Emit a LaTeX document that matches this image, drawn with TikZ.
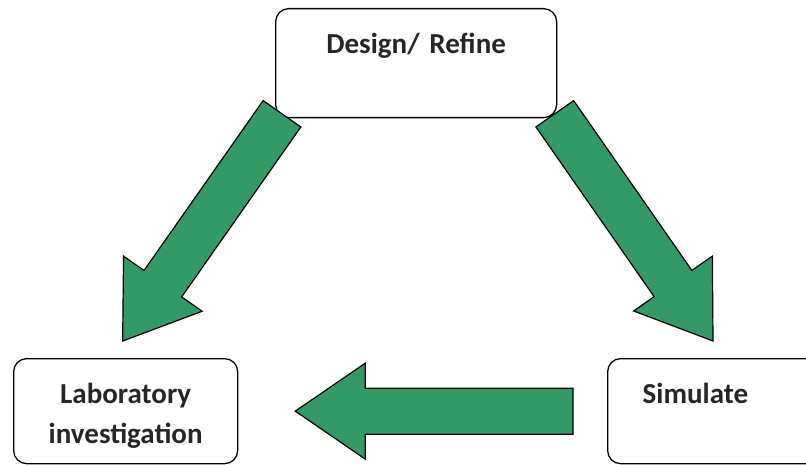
\documentclass[tikz,border=0pt]{standalone}
\usepackage{fontspec}
\setmainfont{Carlito}
\usetikzlibrary{calc}
\definecolor{flowgreen}{RGB}{51,153,102}

% fat block arrow from #1 (tail centre) to #2 (tip)
\newcommand{\fatarrow}[2]{%
  \coordinate (fabase) at ($(#2)!70pt!(#1)$);
  \draw[fatarr] ($(#1)!23pt!90:(#2)$)
    -- ($(fabase)!23pt!90:(#2)$)
    -- ($(fabase)!48pt!90:(#2)$)
    -- (#2)
    -- ($(fabase)!48pt!-90:(#2)$)
    -- ($(fabase)!23pt!-90:(#2)$)
    -- ($(#1)!23pt!-90:(#2)$) -- cycle;
}

\begin{document}
\begin{tikzpicture}[x=1pt, y=-1pt,
    stage/.style={rectangle, draw=black, line width=1.3pt, rounded corners=13pt,
                  anchor=north west, inner sep=0pt, align=center,
                  font=\fontsize{29}{40}\selectfont\bfseries, text=black!85},
    fatarr/.style={draw=black, line width=1.2pt, fill=flowgreen, line join=miter},
]
\useasboundingbox (0,0) rectangle (806,465);

% Design/ Refine
\node[stage, text width=281pt, text height=45pt, text depth=64pt] (design) at (275,8) {Design/ Refine};

% Laboratory investigation
\node[stage, text width=224pt, text height=45pt, text depth=60pt] (lab) at (13,358) {Laboratory\\investigation};

% Simulate
\node[stage, align=left, inner xsep=35pt, text width=153pt, text height=45pt, text depth=60pt] (sim) at (607,358) {Simulate};

\coordinate (dltail) at ($(design.south west)+(7,-4.5)$);
\coordinate (dltip) at ($(lab.north)+(-3,-17)$);
\coordinate (drtail) at ($(design.south east)+(-2.5,-4.5)$);
\coordinate (drtip) at ($(sim.north west)+(106,-17)$);
\coordinate (sltail) at ($(sim.west)+(-34,0)$);
\coordinate (sltip) at ($(lab.east)+(57,0)$);

\fatarrow{dltail}{dltip}
\fatarrow{drtail}{drtip}
\fatarrow{sltail}{sltip}

\end{tikzpicture}
\end{document}
